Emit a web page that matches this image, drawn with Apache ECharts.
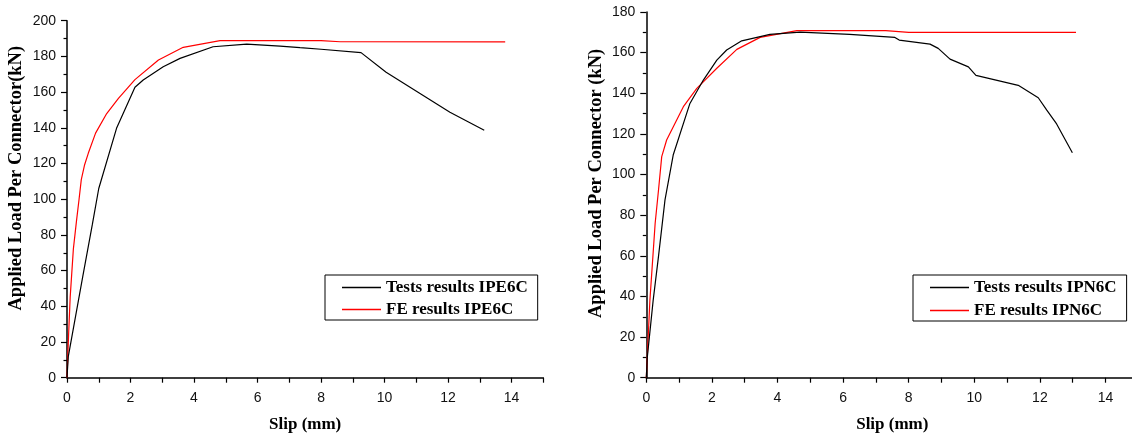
<!DOCTYPE html>
<html>
<head>
<meta charset="utf-8">
<script src="https://cdn.jsdelivr.net/npm/echarts@6/dist/echarts.min.js"></script>
<style>
  html, body { margin: 0; padding: 0; background: #fff; }
  #chart { width: 1132px; height: 437px; }
</style>
</head>
<body>
<div id="chart"></div>
<script>
// Push-out test results vs. finite element results, IPE and IPN connectors
const ipeTestSlip = [0, 0.04, 0.5, 0.8, 1.0, 1.56, 2.14, 2.4, 3.03, 3.56, 4.6, 5.66, 6.71, 7.34, 8.0, 9.26, 10.05, 12.06, 13.14];
const ipeTestLoad = [0, 11.8, 57, 86, 106, 139.7, 162.7, 166.8, 174.2, 178.9, 185.4, 186.9, 185.8, 184.9, 184, 182.1, 171.1, 148.7, 138.6];

const ipeFeSlip = [0, 0.05, 0.1, 0.2, 0.3, 0.38, 0.45, 0.55, 0.67, 0.9, 1.25, 1.62, 2.14, 2.88, 3.66, 4.82, 8.0, 8.6, 13.8];
const ipeFeLoad = [0, 24, 45, 72, 88, 100, 111, 119, 125.7, 137, 148, 156.5, 167, 178, 185.1, 188.8, 188.8, 188.2, 188.1];

const ipnTestSlip = [0, 0.03, 0.21, 0.37, 0.57, 0.82, 1.33, 1.74, 2.15, 2.45, 2.91, 3.77, 4.69, 6.2, 7.58, 7.71, 8.65, 8.9, 9.26, 9.82, 10.05, 11.34, 11.95, 12.21, 12.51, 12.99];
const ipnTestLoad = [0, 10, 38.2, 59.5, 87.5, 109.6, 135, 146.5, 156.3, 161.3, 165.8, 169, 170.1, 169, 167.5, 166.2, 164.2, 162.1, 156.8, 153, 148.8, 143.9, 137.8, 131.7, 124.9, 110.7];

const ipnFeSlip = [0, 0.11, 0.27, 0.37, 0.47, 0.62, 1.13, 1.54, 2.15, 2.76, 3.47, 4.59, 7.3, 8.0, 13.1];
const ipnFeLoad = [0, 38.2, 76, 92, 108.8, 117, 133.4, 142.4, 152.3, 161.6, 167.5, 170.8, 170.8, 170, 170];

const seriesNames = ['Tests results IPE6C', 'FE results IPE6C', 'Tests results IPN6C', 'FE results IPN6C'];
const slipTitle = 'Slip (mm)';
const loadTitles = ['Applied Load Per Connector(kN)', 'Applied Load Per Connector (kN)'];

const zip = (xs, ys) => xs.map((x, i) => [x, ys[i]]);

const SERIF = 'Liberation Serif';
const SANS = 'Liberation Sans';

function xAxisCfg(gridIndex) {
  return {
    type: 'value', gridIndex, min: 0, max: 15, interval: 1,
    axisLine: { show: true, lineStyle: { color: '#000', width: 1.5 } },
    axisTick: { show: true, length: 5, inside: false, lineStyle: { color: '#000', width: 1.2 } },
    axisLabel: {
      margin: 13, color: '#111', fontFamily: SANS, fontSize: 14,
      formatter: v => (v % 2 === 0 ? String(v) : '')
    },
    splitLine: { show: false },
    name: slipTitle, nameLocation: 'middle', nameGap: 38,
    nameTextStyle: { fontFamily: SERIF, fontWeight: 'bold', fontSize: 17, color: '#000' }
  };
}

function yAxisCfg(gridIndex, max, title, shift) {
  return {
    type: 'value', gridIndex, min: 0, max, interval: 20,
    axisLine: { show: true, lineStyle: { color: '#000', width: 1.5 } },
    axisTick: { show: true, length: 6, lineStyle: { color: '#000', width: 1.2 } },
    minorTick: { show: true, splitNumber: 2, length: 3.5, lineStyle: { color: '#000', width: 1.2 } },
    axisLabel: { margin: 11, color: '#111', fontFamily: SANS, fontSize: 14 },
    splitLine: { show: false },
    name: title, nameLocation: 'middle', nameGap: 41,
    nameTextStyle: {
      fontFamily: SERIF, fontWeight: 'bold', fontSize: 18.5, color: '#000',
      padding: [0, 0, 0, shift]
    }
  };
}

function lineSeries(name, xi, data, color) {
  return {
    name, type: 'line', xAxisIndex: xi, yAxisIndex: xi,
    data, showSymbol: false, symbol: 'none', smooth: false,
    lineStyle: { color, width: 1.2 }, itemStyle: { color },
    animation: false, z: color === '#000000' ? 3 : 2
  };
}

function legendCfg(left, top, names, gap) {
  return {
    orient: 'vertical', left, top, data: names,
    icon: 'rect', itemWidth: 39, itemHeight: 1.3, itemGap: gap,
    padding: [4, 10, 2, 17],
    borderColor: '#000', borderWidth: 1, backgroundColor: '#fff',
    selectedMode: false,
    textStyle: { fontFamily: SERIF, fontWeight: 'bold', fontSize: 17, color: '#000', lineHeight: 17 }
  };
}

const chart = echarts.init(document.getElementById('chart'), null, { renderer: 'canvas' });
chart.setOption({
  backgroundColor: '#fff',
  animation: false,
  grid: [
    { left: 67, top: 20.7, width: 476.3, height: 357, containLabel: false, outerBoundsMode: 'none' },
    { left: 646.3, top: 12, width: 492, height: 365.7, containLabel: false, outerBoundsMode: 'none' }
  ],
  xAxis: [xAxisCfg(0), xAxisCfg(1)],
  yAxis: [yAxisCfg(0, 200, loadTitles[0], 42), yAxisCfg(1, 180, loadTitles[1], 23)],
  legend: [
    legendCfg(325, 275, [seriesNames[0], seriesNames[1]], 5),
    legendCfg(913, 275, [seriesNames[2], seriesNames[3]], 6)
  ],
  series: [
    lineSeries(seriesNames[0], 0, zip(ipeTestSlip, ipeTestLoad), '#000000'),
    lineSeries(seriesNames[1], 0, zip(ipeFeSlip, ipeFeLoad), '#ff0000'),
    lineSeries(seriesNames[2], 1, zip(ipnTestSlip, ipnTestLoad), '#000000'),
    lineSeries(seriesNames[3], 1, zip(ipnFeSlip, ipnFeLoad), '#ff0000')
  ]
});
</script>
</body>
</html>
